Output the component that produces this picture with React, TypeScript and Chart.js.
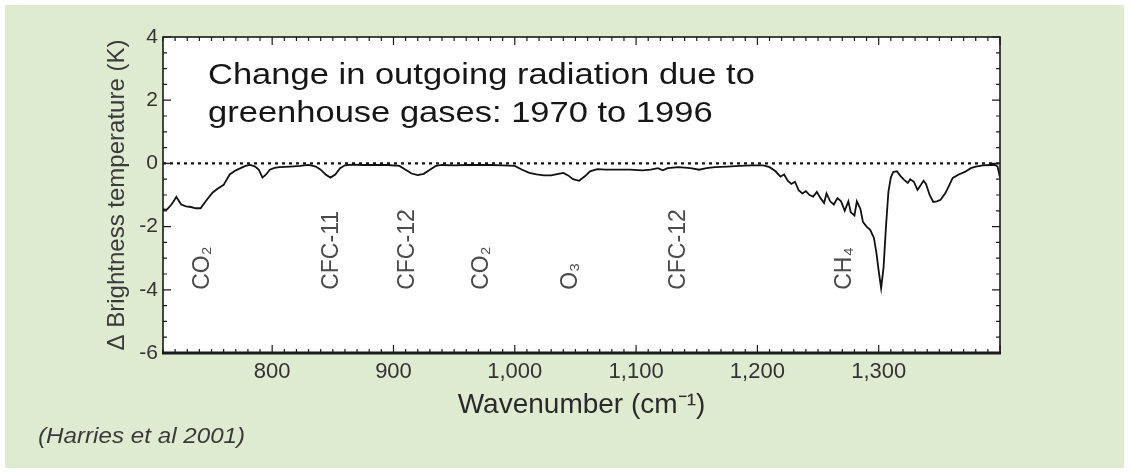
import React, { useEffect, useRef } from "react";
import { Chart, registerables } from "chart.js";

Chart.register(...registerables);

// ---- data ----
const wavenumbers = [
  710, 713, 717, 721, 725, 729, 733, 737, 741, 746, 751, 755, 760, 765, 770, 774, 778, 782, 786, 789,
  792, 795, 798, 802, 806, 815, 823, 830, 836, 840, 844, 848, 852, 856, 860, 866, 875, 885, 895, 905,
  910, 915, 920, 925, 930, 935, 940, 950, 960, 970, 980, 990, 1000, 1006, 1012, 1018, 1024, 1030, 1036, 1040,
  1044, 1048, 1053, 1058, 1062, 1068, 1075, 1085, 1095, 1105, 1112, 1118, 1122, 1126, 1135, 1145, 1152, 1158, 1165, 1175,
  1185, 1195, 1205, 1210, 1215, 1219, 1222, 1225, 1228, 1231, 1234, 1237, 1240, 1243, 1246, 1249, 1252, 1255, 1257, 1260,
  1263, 1266, 1269, 1272, 1275, 1277, 1280, 1282, 1285, 1287, 1290, 1293, 1296, 1298, 1300, 1302, 1304, 1306, 1308, 1310,
  1312, 1315, 1318, 1321, 1324, 1326, 1329, 1332, 1334, 1337, 1339, 1342, 1345, 1348, 1351, 1355, 1358, 1361, 1366, 1371,
  1376, 1380, 1386, 1392, 1396, 1398, 1400,
];
const deltaTb = [
  -1.45, -1.47, -1.3, -1.06, -1.3, -1.36, -1.38, -1.42, -1.42, -1.16, -0.92, -0.8, -0.68, -0.35, -0.22, -0.15, -0.08, -0.05, -0.1, -0.2,
  -0.45, -0.35, -0.2, -0.14, -0.12, -0.1, -0.08, -0.05, -0.1, -0.2, -0.35, -0.45, -0.35, -0.15, -0.06, -0.04, -0.05, -0.05, -0.05, -0.08,
  -0.2, -0.32, -0.37, -0.33, -0.2, -0.08, -0.05, -0.06, -0.05, -0.05, -0.05, -0.06, -0.08, -0.2, -0.3, -0.35, -0.38, -0.38, -0.33, -0.3,
  -0.38, -0.5, -0.55, -0.4, -0.25, -0.18, -0.2, -0.2, -0.2, -0.22, -0.2, -0.15, -0.22, -0.15, -0.12, -0.15, -0.2, -0.15, -0.12, -0.1,
  -0.08, -0.06, -0.06, -0.12, -0.25, -0.42, -0.35, -0.55, -0.65, -0.58, -0.85, -0.95, -0.88, -1.0, -1.05, -0.9, -1.1, -1.25, -0.95, -1.2,
  -1.3, -1.1, -1.2, -1.5, -1.2, -1.55, -1.65, -1.2, -1.45, -1.85, -2.0, -2.1, -2.35, -2.8, -3.4, -3.95, -3.3, -2.0, -0.9, -0.45,
  -0.27, -0.25, -0.4, -0.52, -0.62, -0.5, -0.58, -0.84, -0.72, -0.55, -0.65, -1.0, -1.22, -1.2, -1.15, -0.94, -0.7, -0.46, -0.35, -0.27,
  -0.15, -0.1, -0.06, -0.05, -0.05, -0.1, -0.45,
];
const zeroLineX = [710, 1400];
const zeroLineY = [0, 0];

const xTickValues = [800, 900, 1000, 1100, 1200, 1300];
const xTickLabels = ["800", "900", "1,000", "1,100", "1,200", "1,300"];
const yTickValues = [4, 2, 0, -2, -4, -6];
const yTickLabels = ["4", "2", "0", "-2", "-4", "-6"];

const gasNames = ["CO₂", "CFC-11", "CFC-12", "CO₂", "O₃", "CFC-12", "CH₄"];
const gasWavenumbers = [743, 849, 912, 973, 1046, 1135, 1272];
const gasLabelBase = -4;

const titleLines = ["Change in outgoing radiation due to", "greenhouse gases: 1970 to 1996"];
const xAxisTitle = "Wavenumber (cm⁻¹)";
const yAxisTitle = "Δ Brightness temperature (K)";
const citation = "(Harries et al 2001)";

const X_MIN = 710;
const X_MAX = 1400;
const Y_MIN = -6;
const Y_MAX = 4;

const FONT = "'Liberation Sans', Arial, sans-serif";

function stretchedText(ctx: any, text: string, x: number, y: number, sx: number) {
  ctx.save();
  ctx.translate(x, y);
  ctx.scale(sx, 1);
  ctx.fillText(text, 0, 0);
  ctx.restore();
}

const decorPlugin = {
  id: "decor",
  beforeDraw(chart: any) {
    const { ctx, chartArea } = chart;
    ctx.save();
    ctx.fillStyle = "#ffffff";
    ctx.fillRect(chartArea.left, chartArea.top, chartArea.right - chartArea.left, chartArea.bottom - chartArea.top);
    ctx.restore();
  },
  afterDraw(chart: any) {
    const { ctx, chartArea } = chart;
    const xs = chart.scales.x;
    const ys = chart.scales.y;
    const { left, right, top, bottom } = chartArea;
    ctx.save();
    ctx.strokeStyle = "#1a1a1a";
    // frame
    ctx.lineWidth = 1.6;
    ctx.strokeRect(left, top, right - left, bottom - top);
    ctx.lineWidth = 3;
    ctx.beginPath();
    ctx.moveTo(left - 1, bottom);
    ctx.lineTo(right + 1, bottom);
    ctx.stroke();
    // x ticks (inward, top and bottom)
    ctx.lineWidth = 1.2;
    for (let v = X_MIN; v <= X_MAX; v += 10) {
      const px = xs.getPixelForValue(v);
      const len = v % 100 === 0 ? 8 : 4;
      ctx.beginPath();
      ctx.moveTo(px, bottom);
      ctx.lineTo(px, bottom - len);
      ctx.moveTo(px, top);
      ctx.lineTo(px, top + len);
      ctx.stroke();
    }
    // y ticks (inward, left and right)
    for (let v = Y_MIN; v <= Y_MAX; v += 0.5) {
      const py = ys.getPixelForValue(v);
      const len = v % 2 === 0 ? 8 : 4;
      ctx.beginPath();
      ctx.moveTo(left, py);
      ctx.lineTo(left + len, py);
      ctx.moveTo(right, py);
      ctx.lineTo(right - len, py);
      ctx.stroke();
    }
    // title inside plot
    ctx.fillStyle = "#161616";
    ctx.font = `29px ${FONT}`;
    ctx.textAlign = "left";
    ctx.textBaseline = "alphabetic";
    stretchedText(ctx, titleLines[0], left + 45, top + 47, 1.19);
    stretchedText(ctx, titleLines[1], left + 45, top + 85, 1.19);
    // gas labels (rotated)
    ctx.fillStyle = "#4a4a4a";
    ctx.font = `23px ${FONT}`;
    ctx.textBaseline = "middle";
    gasNames.forEach((name, i) => {
      const px = xs.getPixelForValue(gasWavenumbers[i]);
      const py = ys.getPixelForValue(gasLabelBase);
      ctx.save();
      ctx.translate(px, py);
      ctx.rotate(-Math.PI / 2);
      ctx.fillText(name, 0, 0);
      ctx.restore();
    });
    // citation
    ctx.fillStyle = "#3a3a3a";
    ctx.font = `italic 22px ${FONT}`;
    ctx.textAlign = "left";
    ctx.textBaseline = "middle";
    stretchedText(ctx, citation, 33, 432, 1.1);
    ctx.restore();
  },
};

export default function App() {
  const canvasRef = useRef<HTMLCanvasElement | null>(null);

  useEffect(() => {
    const canvas = canvasRef.current;
    if (!canvas) return;
    const chart = new Chart(canvas, {
      type: "line",
      data: {
        datasets: [
          {
            label: "zero",
            data: zeroLineX.map((x, i) => ({ x, y: zeroLineY[i] })),
            borderColor: "#111111",
            borderWidth: 2.2,
            borderDash: [3, 4],
            pointRadius: 0,
            tension: 0,
          },
          {
            label: "ΔTb",
            data: wavenumbers.map((x, i) => ({ x, y: deltaTb[i] })),
            borderColor: "#111111",
            borderWidth: 1.8,
            pointRadius: 0,
            tension: 0,
          },
        ],
      },
      options: {
        responsive: false,
        maintainAspectRatio: false,
        animation: false,
        layout: { padding: { left: 90, top: 32, right: 124, bottom: 35 } },
        plugins: { legend: { display: false }, tooltip: { enabled: false }, title: { display: false } },
        scales: {
          x: {
            type: "linear",
            min: X_MIN,
            max: X_MAX,
            afterBuildTicks: (s: any) => {
              s.ticks = xTickValues.map((v) => ({ value: v }));
            },
            afterFit: (s: any) => {
              s.height = 80;
            },
            grid: { display: false, drawTicks: false },
            border: { display: false },
            ticks: {
              padding: 6,
              color: "#333333",
              font: { family: FONT, size: 22 },
              maxRotation: 0,
              callback: (v: any) => {
                const i = xTickValues.indexOf(Number(v));
                return i >= 0 ? xTickLabels[i] : "";
              },
            },
            title: {
              display: true,
              text: xAxisTitle,
              color: "#2a2a2a",
              font: { family: FONT, size: 28 },
              padding: { top: 0, bottom: 11 },
            },
          },
          y: {
            type: "linear",
            min: Y_MIN,
            max: Y_MAX,
            afterBuildTicks: (s: any) => {
              s.ticks = yTickValues.map((v) => ({ value: v }));
            },
            afterFit: (s: any) => {
              s.width = 68;
            },
            grid: { display: false, drawTicks: false },
            border: { display: false },
            ticks: {
              padding: 5,
              color: "#333333",
              font: { family: FONT, size: 21 },
              callback: (v: any) => {
                const i = yTickValues.indexOf(Number(v));
                return i >= 0 ? yTickLabels[i] : "";
              },
            },
            title: {
              display: true,
              text: yAxisTitle,
              color: "#3a3a3a",
              font: { family: FONT, size: 24 },
              padding: { top: 8, bottom: 0 },
            },
          },
        },
      },
      plugins: [decorPlugin],
    });
    return () => chart.destroy();
  }, []);

  return (
    <div style={{ position: "absolute", left: 0, top: 0, width: 1129, height: 473, background: "#ffffff" }}>
      <div style={{ position: "absolute", left: 5, top: 5, width: 1119, height: 463, background: "#dfebd1" }}>
        <canvas ref={canvasRef} width={1119} height={463} style={{ display: "block", width: 1119, height: 463 }} />
      </div>
    </div>
  );
}
